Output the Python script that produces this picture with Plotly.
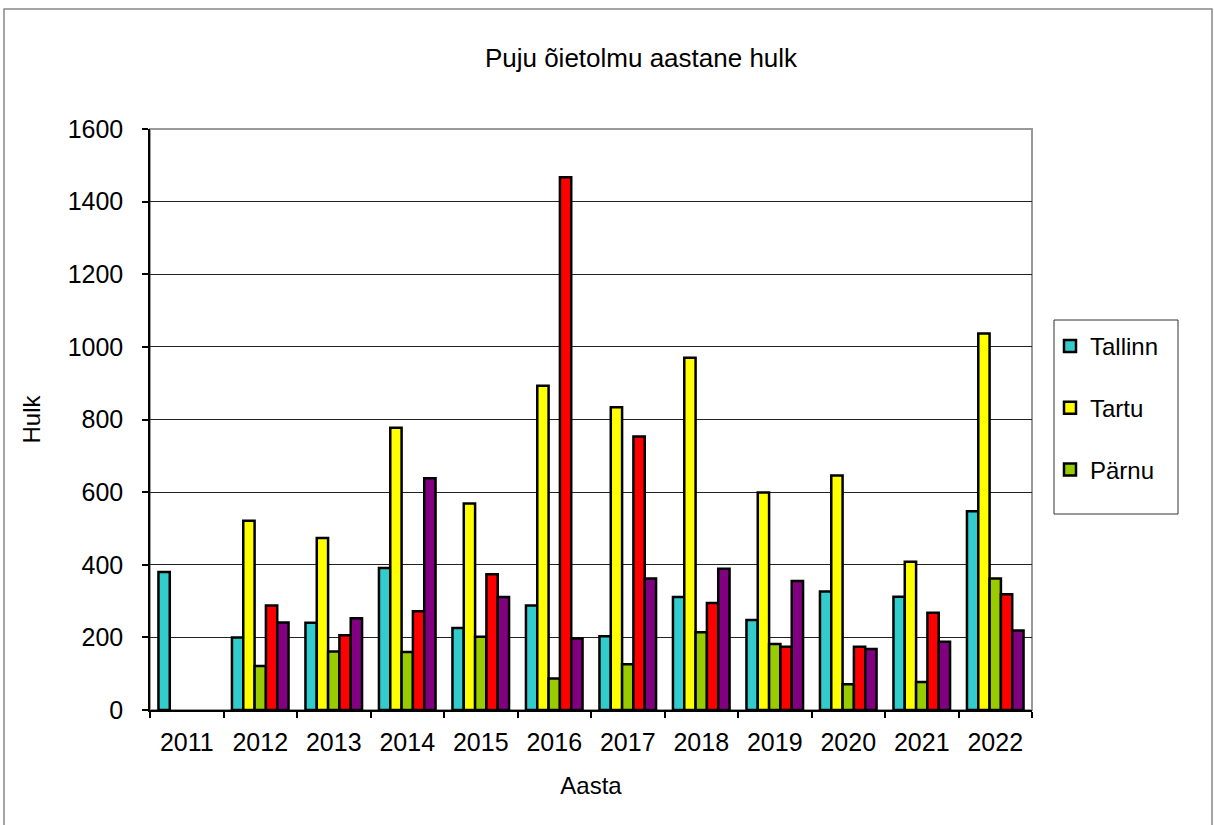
import plotly.graph_objects as go

years = ["2011", "2012", "2013", "2014", "2015", "2016", "2017", "2018", "2019", "2020", "2021", "2022"]
tallinn = [380, 200, 240, 391, 226, 288, 203, 311, 248, 326, 312, 547]
tartu = [None, 521, 474, 777, 569, 893, 834, 970, 599, 646, 408, 1037]
parnu = [None, 121, 161, 160, 202, 87, 126, 214, 182, 71, 77, 362]
seeria4 = [None, 288, 206, 272, 374, 1467, 753, 295, 174, 174, 268, 319]
seeria5 = [None, 241, 253, 638, 311, 197, 362, 389, 355, 168, 188, 219]

series = [
    ("Tallinn", tallinn, "#33CCCC", True),
    ("Tartu", tartu, "#FFFF00", True),
    ("Pärnu", parnu, "#99CC00", True),
    ("Seeria 4", seeria4, "#FF0000", False),
    ("Seeria 5", seeria5, "#800080", False),
]

FONT = "Liberation Sans, Arial, sans-serif"

fig = go.Figure()
for i, (name, vals, col, show) in enumerate(series):
    fig.add_trace(go.Bar(
        x=years, y=vals, name=name, showlegend=show, legendgroup=name,
        marker=dict(color=col, line=dict(color="black", width=2.5)),
    ))

W, H = 1214, 825
L, R, T, B = 150, 182, 129, 115
pw, ph = W - L - R, H - T - B

def px(x):
    return (x - L) / pw

def py(y):
    return (H - B - y) / ph

fig.update_layout(
    width=W, height=H,
    margin=dict(l=L, r=R, t=T, b=B),
    paper_bgcolor="white", plot_bgcolor="white",
    font=dict(family=FONT, size=24, color="black"),
    barmode="group", bargap=0.23, bargroupgap=0,
    title=dict(text="Puju õietolmu aastane hulk", x=641 / W, xanchor="center",
               y=1 - 58 / H, yanchor="middle", font=dict(size=26)),
    xaxis=dict(type="category", tickson="boundaries", ticks="outside", ticklen=6,
               tickcolor="black", tickwidth=1.5, showline=True, linecolor="black", linewidth=1.5,
               showgrid=False, tickfont=dict(size=25), ticklabelstandoff=9,
               title=dict(text="Aasta", standoff=22, font=dict(size=24))),
    yaxis=dict(range=[0, 1600], dtick=200, ticks="outside", ticklen=6, tickcolor="black",
               tickwidth=1.5, showline=True, linecolor="black", linewidth=1.5,
               showgrid=True, gridcolor="#222222", gridwidth=1, zeroline=False,
               tickfont=dict(size=25), ticklabelstandoff=14,
               title=dict(text="Hulk", standoff=20, font=dict(size=24))),
    legend=dict(x=px(1050), xanchor="left", y=py(324), yanchor="top",
                font=dict(size=24), traceorder="grouped", tracegroupgap=27.5,
                bgcolor="rgba(0,0,0,0)", borderwidth=0),
    shapes=[
        dict(type="rect", xref="paper", yref="paper", x0=px(4), x1=px(1212), y0=py(832), y1=py(9),
             line=dict(color="#888888", width=1.5), layer="below"),
        dict(type="rect", xref="paper", yref="paper", x0=0, x1=1, y0=0, y1=1,
             line=dict(color="#999999", width=2), layer="below"),
        dict(type="rect", xref="paper", yref="paper", x0=px(1054), x1=px(1178), y0=py(514), y1=py(320),
             line=dict(color="#333333", width=1), layer="below"),
    ],
)

fig.write_html("out.html")
